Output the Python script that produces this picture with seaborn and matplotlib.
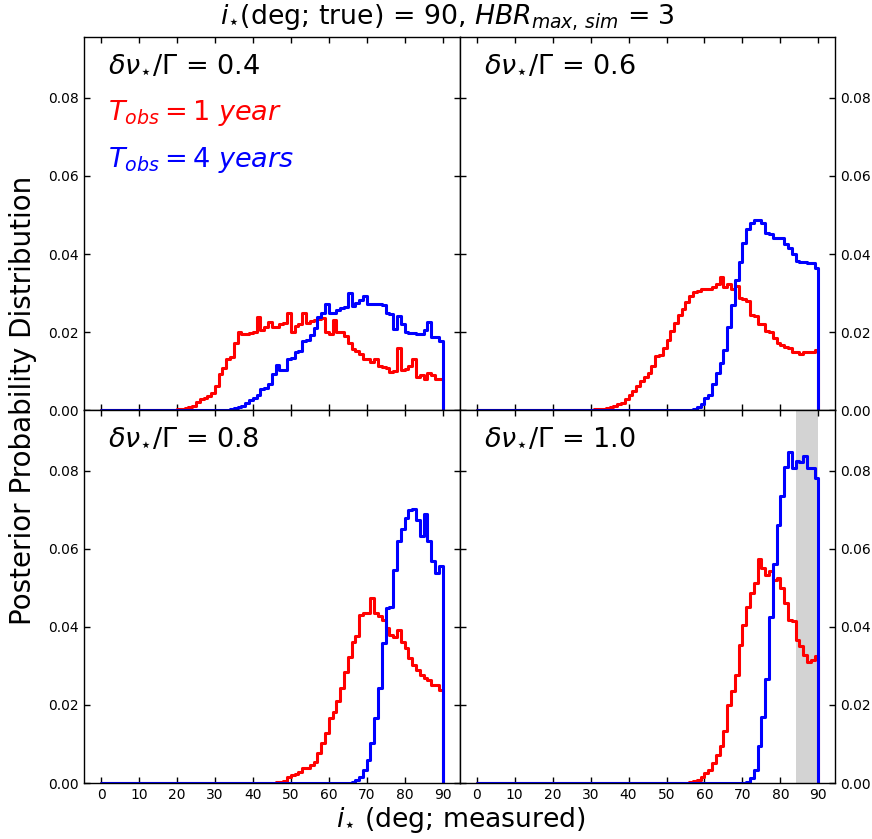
import numpy as np
import pandas as pd
import matplotlib
matplotlib.use("Agg")
import matplotlib.pyplot as plt
import seaborn as sns
from matplotlib.ticker import FormatStrFormatter

# ---------------- data (posterior per 1-degree bin, bins 0..89) ----------------
bin_edges = list(range(0, 91))
panel_labels = ["0.4", "0.6", "0.8", "1.0"]
series_names = ["1 year", "4 years"]

red_04 = [0.0] * 20 + [
    0.0003, 0.0004, 0.0005, 0.0007, 0.0012, 0.0022, 0.0028, 0.0032, 0.0036, 0.0045,
    0.0062, 0.0092, 0.0108, 0.0132, 0.0135, 0.0172, 0.0200, 0.0196, 0.0194, 0.0197,
    0.0201, 0.0238, 0.0205, 0.0214, 0.0226, 0.0214, 0.0212, 0.0220, 0.0224, 0.0248,
    0.0201, 0.0216, 0.0222, 0.0250, 0.0224, 0.0228, 0.0232, 0.0234, 0.0236, 0.0200,
    0.0195, 0.0231, 0.0200, 0.0200, 0.0189, 0.0171, 0.0158, 0.0152, 0.0145, 0.0131,
    0.0131, 0.0124, 0.0130, 0.0113, 0.0110, 0.0108, 0.0098, 0.0100, 0.0160, 0.0104,
    0.0106, 0.0112, 0.0132, 0.0085, 0.0090, 0.0081, 0.0094, 0.0090, 0.0079, 0.0079]
blue_04 = [0.0] * 33 + [
    0.0001, 0.0003, 0.0006, 0.0009, 0.0012, 0.0018, 0.0025, 0.0031, 0.0038, 0.0055,
    0.0058, 0.0068, 0.0092, 0.0115, 0.0104, 0.0103, 0.0131, 0.0133, 0.0150, 0.0152,
    0.0178, 0.0180, 0.0192, 0.0210, 0.0238, 0.0248, 0.0272, 0.0248, 0.0250, 0.0256,
    0.0262, 0.0264, 0.0299, 0.0267, 0.0275, 0.0282, 0.0293, 0.0272, 0.0272, 0.0271,
    0.0271, 0.0270, 0.0248, 0.0247, 0.0207, 0.0241, 0.0222, 0.0200, 0.0198, 0.0197,
    0.0196, 0.0196, 0.0205, 0.0226, 0.0188, 0.0188, 0.0177]

red_06 = [0.0] * 30 + [
    0.0001, 0.0002, 0.0003, 0.0004, 0.0006, 0.0009, 0.0012, 0.0015, 0.0019, 0.0028,
    0.0040, 0.0050, 0.0063, 0.0074, 0.0085, 0.0096, 0.0112, 0.0139, 0.0142, 0.0160,
    0.0180, 0.0204, 0.0224, 0.0243, 0.0258, 0.0278, 0.0292, 0.0302, 0.0306, 0.0310,
    0.0310, 0.0310, 0.0315, 0.0324, 0.0342, 0.0315, 0.0322, 0.0310, 0.0318, 0.0288,
    0.0284, 0.0280, 0.0245, 0.0242, 0.0222, 0.0220, 0.0203, 0.0200, 0.0185, 0.0172,
    0.0166, 0.0163, 0.0160, 0.0150, 0.0150, 0.0144, 0.0150, 0.0148, 0.0150, 0.0154]
blue_06 = [0.0] * 57 + [
    0.0002, 0.0007, 0.0017, 0.0030, 0.0040, 0.0068, 0.0094, 0.0122, 0.0155, 0.0212,
    0.0269, 0.0333, 0.0380, 0.0429, 0.0463, 0.0479, 0.0487, 0.0487, 0.0480, 0.0453,
    0.0451, 0.0442, 0.0440, 0.0440, 0.0425, 0.0415, 0.0400, 0.0382, 0.0380, 0.0380,
    0.0376, 0.0376, 0.0363]

red_08 = [0.0] * 44 + [
    0.0001, 0.0001, 0.0002, 0.0003, 0.0006, 0.0015, 0.0020, 0.0023, 0.0029, 0.0038,
    0.0038, 0.0046, 0.0055, 0.0076, 0.0102, 0.0127, 0.0166, 0.0183, 0.0209, 0.0243,
    0.0285, 0.0324, 0.0362, 0.0377, 0.0431, 0.0435, 0.0435, 0.0474, 0.0435, 0.0427,
    0.0418, 0.0397, 0.0379, 0.0375, 0.0392, 0.0362, 0.0345, 0.0320, 0.0303, 0.0290,
    0.0277, 0.0268, 0.0264, 0.0251, 0.0251, 0.0238]
blue_08 = [0.0] * 64 + [
    0.0001, 0.0001, 0.0003, 0.0008, 0.0016, 0.0033, 0.0059, 0.0102, 0.0166, 0.0243,
    0.0358, 0.0448, 0.0452, 0.0546, 0.0619, 0.0650, 0.0679, 0.0700, 0.0702, 0.0673,
    0.0633, 0.0690, 0.0619, 0.0568, 0.0538, 0.0555]

red_10 = [0.0] * 55 + [
    0.0001, 0.0002, 0.0006, 0.0009, 0.0016, 0.0025, 0.0033, 0.0052, 0.0072, 0.0095,
    0.0134, 0.0200, 0.0237, 0.0277, 0.0354, 0.0405, 0.0452, 0.0486, 0.0512, 0.0574,
    0.0552, 0.0533, 0.0542, 0.0520, 0.0524, 0.0499, 0.0460, 0.0418, 0.0414, 0.0367,
    0.0350, 0.0328, 0.0311, 0.0315, 0.0326]
blue_10 = [0.0] * 70 + [
    0.0001, 0.0003, 0.0012, 0.0033, 0.0095, 0.0170, 0.0266, 0.0425, 0.0562, 0.0662,
    0.0734, 0.0809, 0.0848, 0.0808, 0.0826, 0.0822, 0.0837, 0.0808, 0.0808, 0.0781]

panel_red = [red_04, red_06, red_08, red_10]
panel_blue = [blue_04, blue_06, blue_08, blue_10]
highlight_range = (84, 90)  # shaded band in the delta nu = 1.0 panel

x_ticks = list(range(0, 91, 10))
y_ticks = [0.00, 0.02, 0.04, 0.06, 0.08]

# ---------------- styling ----------------
sns.set_style("ticks")
plt.rcParams["font.family"] = ["DejaVu Sans"]
plt.rcParams["mathtext.fontset"] = "dejavusans"
plt.rcParams["axes.linewidth"] = 1.0
for key in ["text.color", "axes.labelcolor", "xtick.color", "ytick.color",
            "axes.edgecolor"]:
    plt.rcParams[key] = "black"

palette = {"1 year": "#ff0000", "4 years": "#0000ff"}


def step_frame(values, name):
    vals = np.asarray(values, dtype=float)
    edges = np.asarray(bin_edges, dtype=float)
    x = np.r_[edges, edges[-1]]
    y = np.r_[vals, vals[-1], 0.0]
    return pd.DataFrame({"angle": x, "density": y, "T": name})


fig, axes = plt.subplots(2, 2, figsize=(8.72, 8.39), dpi=100, sharex=True, sharey=True)
fig.subplots_adjust(left=0.0963, right=0.958, top=0.9555, bottom=0.0667,
                    wspace=0, hspace=0)

for i, ax in enumerate(axes.flat):
    if i == 3:
        ax.axvspan(*highlight_range, color="#d3d3d3", lw=0, zorder=0)
    df = pd.concat([step_frame(panel_red[i], series_names[0]),
                    step_frame(panel_blue[i], series_names[1])], ignore_index=True)
    sns.lineplot(data=df, x="angle", y="density", hue="T", hue_order=series_names,
                 palette=palette, estimator=None, sort=False, drawstyle="steps-post",
                 lw=2.2, legend=False, ax=ax)
    ax.set_xlim(-4.5, 94.5)
    ax.set_ylim(0, 0.0955)
    ax.set_xticks(x_ticks)
    ax.set_yticks(y_ticks)
    ax.yaxis.set_major_formatter(FormatStrFormatter("%.2f"))
    ax.set_xlabel("")
    ax.set_ylabel("")
    row, col = divmod(i, 2)
    ax.tick_params(direction="in", top=True, bottom=True, left=True, right=True,
                   length=4, width=1, labelsize=10, colors="black",
                   labelbottom=(row == 1), labeltop=False,
                   labelleft=(col == 0), labelright=(col == 1))
    for sp in ax.spines.values():
        sp.set_visible(True)
        sp.set_color("black")
    ax.text(0.064, 0.925, r"$\delta\nu_{\star}/\Gamma$ = " + panel_labels[i],
            transform=ax.transAxes, fontsize=19.5, va="center", ha="left",
            color="black")

axes[0, 0].text(0.064, 0.798, r"$T_{obs} = 1\ year$", color="#ff0000",
                transform=axes[0, 0].transAxes, fontsize=19.5, va="center", ha="left")
axes[0, 0].text(0.064, 0.672, r"$T_{obs} = 4\ years$", color="#0000ff",
                transform=axes[0, 0].transAxes, fontsize=19.5, va="center", ha="left")

fig.text(0.5126, 0.9785, r"$i_{\star}$(deg; true) = 90, $HBR_{max,\,sim}$ = 3",
         ha="center", va="center", fontsize=19.3, color="black")
fig.text(0.026, 0.523, "Posterior Probability Distribution", rotation=90,
         ha="center", va="center", fontsize=20, color="black")
fig.text(0.5285, 0.0226, r"$i_{\star}$ (deg; measured)", ha="center", va="center",
         fontsize=19.2, color="black")

fig.savefig("out.png", dpi=100)
